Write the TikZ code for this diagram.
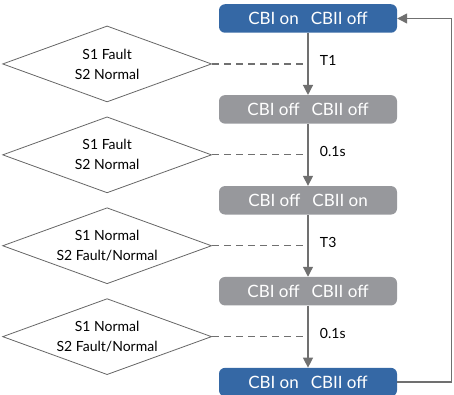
\documentclass[tikz,border=0pt]{standalone}
\usepackage{fontspec}
\setmainfont{Lato}
\usetikzlibrary{arrows.meta,shapes.geometric,positioning,calc}
\definecolor{cbblue}{HTML}{3568A5}
\definecolor{cbgray}{HTML}{97989C}
\definecolor{linegray}{HTML}{707070}
\definecolor{edgegray}{HTML}{666666}
\tikzstyle{state} = [rectangle, rounded corners=6pt, text=white,
    minimum width=178pt, minimum height=28.5pt, inner sep=0pt,
    font=\fontsize{17}{18}\selectfont]
\tikzstyle{onstate} = [state, fill=cbblue]
\tikzstyle{offstate} = [state, fill=cbgray]
\tikzstyle{decision} = [diamond, draw=edgegray, line width=0.8pt, aspect=2.75,
    minimum width=209pt, minimum height=76pt, inner sep=0pt, align=center,
    font=\fontsize{14}{20}\selectfont]
\tikzstyle{delay} = [right, font=\fontsize{14}{15}\selectfont, xshift=8pt]
\newcommand{\cbtext}[2]{CBI #1\hspace{0.7em}CBII #2}

\begin{document}
\begin{tikzpicture}[x=1pt,y=1pt,node distance=62pt,
                    >={Triangle[width=10pt,length=10pt]}]
  \useasboundingbox (0,0) rectangle (454,-395);
  \node[onstate] (b1) at (308,-18.5) {\cbtext{on}{off}};
  \node[offstate] (b2) [below=of b1] {\cbtext{off}{off}};
  \node[offstate] (b3) [below=of b2] {\cbtext{off}{on}};
  \node[offstate] (b4) [below=of b3] {\cbtext{off}{off}};
  \node[onstate] (b5) [below=of b4] {\cbtext{on}{off}};

  % timing points on the main arrows
  \coordinate (m1) at ($(b1.south)!0.5!(b2.north)$);
  \coordinate (m2) at ($(b2.south)!0.5!(b3.north)$);
  \coordinate (m3) at ($(b3.south)!0.5!(b4.north)$);
  \coordinate (m4) at ($(b4.south)!0.5!(b5.north)$);

  \node[decision] (d1) [left=96pt of m1] {S1 Fault\\S2 Normal};
  \node[decision] (d2) [left=96pt of m2] {S1 Fault\\S2 Normal};
  \node[decision] (d3) [left=96pt of m3] {S1 Normal\\S2 Fault/Normal};
  \node[decision] (d4) [left=96pt of m4] {S1 Normal\\S2 Fault/Normal};

  \foreach \d/\m in {d1/m1,d2/m2,d3/m3,d4/m4}
    \draw[linegray, line width=1.2pt, dash pattern=on 7pt off 5pt] (\d.east) -- (\m);

  \path[->, draw=linegray, fill=linegray, line width=1.3pt]
        (b1) edge node[delay, pos=0.45] {T1} (b2)
        (b2) edge node[delay, pos=0.45] {0.1s} (b3)
        (b3) edge node[delay, pos=0.45] {T3} (b4)
        (b4) edge node[delay, pos=0.45] {0.1s} (b5);
  \draw[->, linegray, line width=1.3pt] (b5.east) -- ++(54,0) |- (b1.east);
\end{tikzpicture}
\end{document}
